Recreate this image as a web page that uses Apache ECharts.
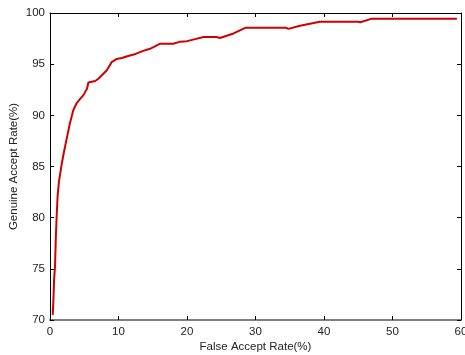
<!DOCTYPE html>
<html>
<head>
<meta charset="utf-8">
<script src="https://cdn.jsdelivr.net/npm/echarts@6/dist/echarts.min.js"></script>
<style>
  html, body { margin: 0; padding: 0; background: #fff; }
  #chart { width: 465px; height: 355px; }
</style>
</head>
<body>
<div id="chart"></div>
<script>
// ROC curve
const far = [0.4, 0.5, 0.6, 0.73, 0.85, 0.97, 1.1, 1.3, 1.7, 2.0, 2.4, 2.9, 3.4, 3.9, 4.4, 4.9, 5.4, 5.6, 6.6, 7.1, 8.3, 9.0, 9.7, 10.5, 11.4, 12.5, 13.6, 14.6, 16.1, 18, 19, 20, 20.9, 22.4, 24.3, 24.8, 26.8, 28.5, 34.5, 34.8, 36.5, 39.4, 45, 45.3, 47, 59.4];
const gar = [70.5, 72, 74, 75.2, 78, 80.1, 82, 83.5, 85.2, 86.3, 87.6, 89.2, 90.5, 91.2, 91.6, 92, 92.6, 93.2, 93.35, 93.6, 94.4, 95.2, 95.5, 95.6, 95.8, 96.0, 96.3, 96.5, 97.0, 97.0, 97.2, 97.25, 97.4, 97.65, 97.65, 97.55, 98.0, 98.55, 98.55, 98.45, 98.75, 99.15, 99.15, 99.1, 99.45, 99.45];

const xTicks = [0, 10, 20, 30, 40, 50, 60];
const yTicks = [70, 75, 80, 85, 90, 95, 100];

const chart = echarts.init(document.getElementById('chart'));

const labelFont = {
  color: '#222',
  fontFamily: 'Liberation Sans, Arial, sans-serif',
  fontSize: 11.5,
};

// box edges on top / right, ticks only
const mirror = (pos, min, max, step) => ({
  type: 'value',
  position: pos,
  min: min,
  max: max,
  interval: step,
  axisLine: { show: true, onZero: false, lineStyle: { color: '#000', width: 1 } },
  axisTick: { show: true, inside: true, length: 4, lineStyle: { color: '#000' } },
  axisLabel: { show: false },
  splitLine: { show: false },
});

chart.setOption({
  animation: false,
  grid: {
    left: 50,
    top: 13,
    right: 4,
    bottom: 35,
    containLabel: false,
    outerBoundsMode: 'none',
  },
  xAxis: [
    {
      type: 'value',
      position: 'bottom',
      min: xTicks[0],
      max: xTicks[xTicks.length - 1],
      interval: 10,
      name: 'False Accept Rate(%)',
      nameLocation: 'middle',
      nameGap: 21,
      nameMoveOverlap: false,
      nameTextStyle: labelFont,
      axisLine: { show: true, onZero: false, lineStyle: { color: '#808080', width: 2 } },
      axisTick: { show: true, inside: true, length: 4, lineStyle: { color: '#000' } },
      axisLabel: Object.assign({ margin: 6 }, labelFont),
      splitLine: { show: false },
    },
    mirror('top', 0, 60, 10),
  ],
  yAxis: [
    {
      type: 'value',
      position: 'left',
      min: yTicks[0],
      max: yTicks[yTicks.length - 1],
      interval: 5,
      name: 'Genuine Accept Rate(%)',
      nameLocation: 'middle',
      nameGap: 30,
      nameMoveOverlap: false,
      nameTextStyle: labelFont,
      axisLine: { show: true, onZero: false, lineStyle: { color: '#000', width: 1 } },
      axisTick: { show: true, inside: true, length: 4, lineStyle: { color: '#000' } },
      axisLabel: Object.assign({ margin: 5 }, labelFont),
      splitLine: { show: false },
    },
    mirror('right', 70, 100, 5),
  ],
  series: [
    {
      type: 'line',
      data: far.map((x, i) => [x, gar[i]]),
      showSymbol: false,
      lineStyle: { color: '#d00000', width: 2 },
      itemStyle: { color: '#d00000' },
    },
  ],
});
</script>
</body>
</html>
